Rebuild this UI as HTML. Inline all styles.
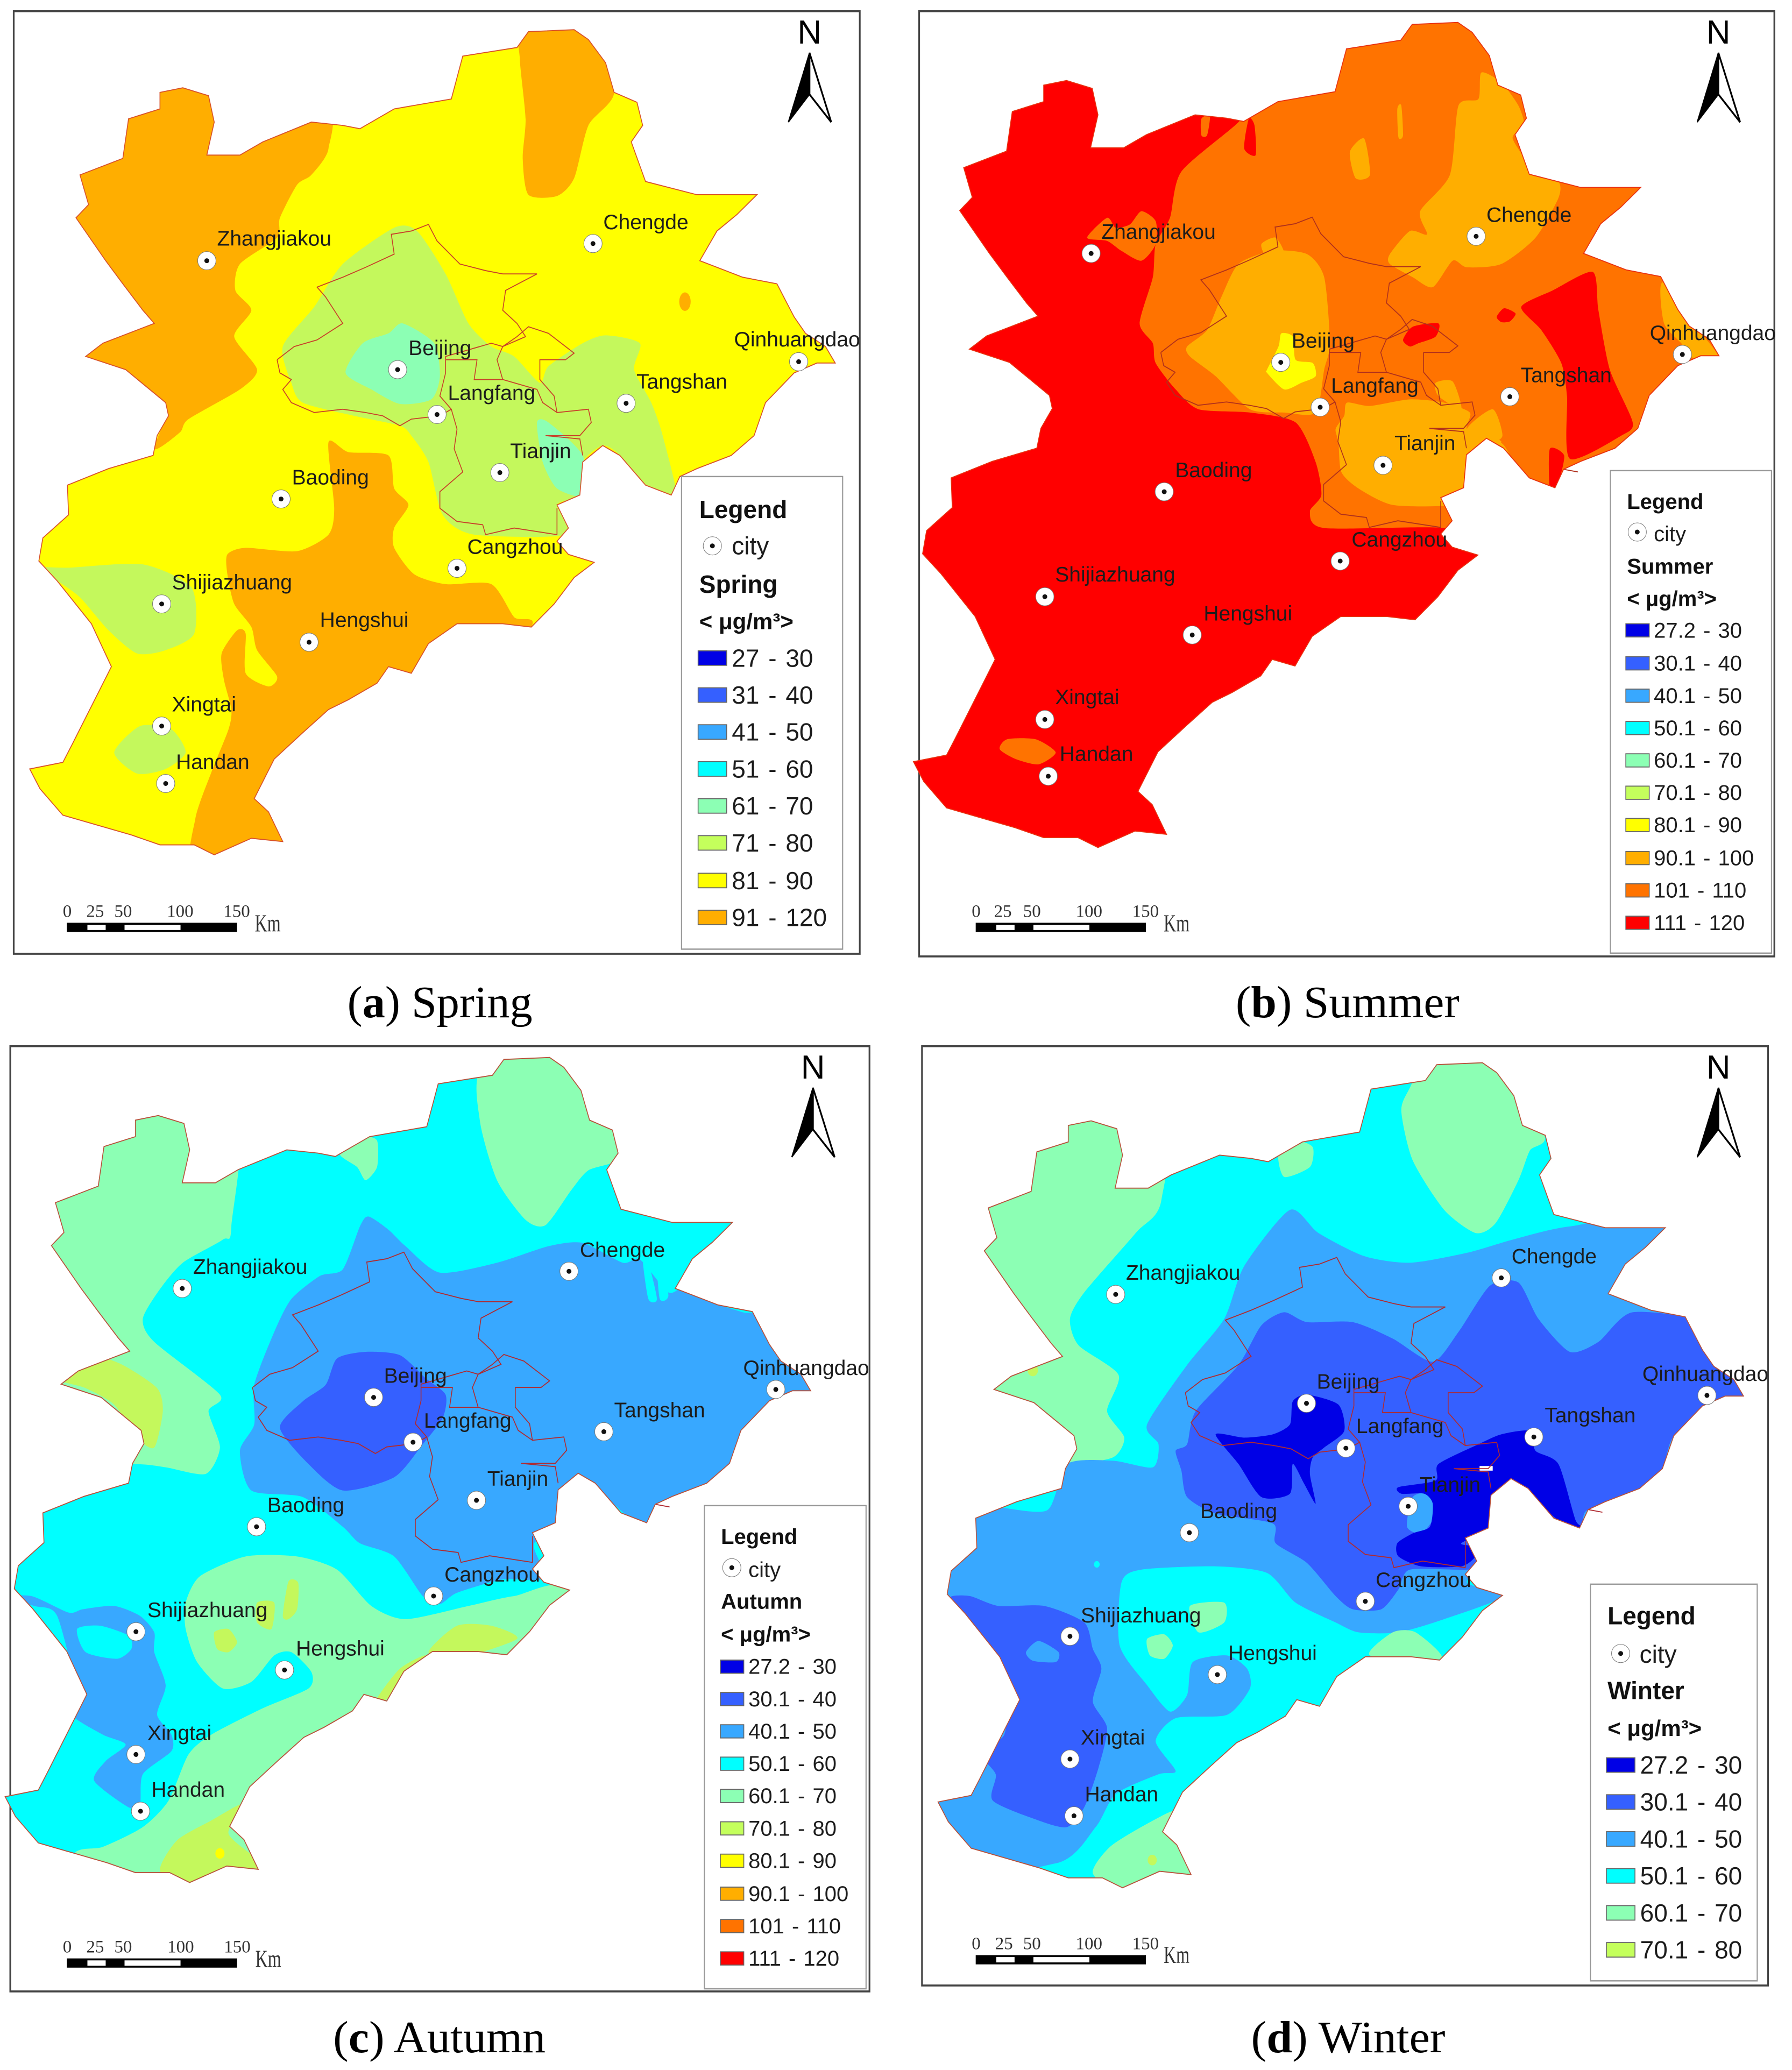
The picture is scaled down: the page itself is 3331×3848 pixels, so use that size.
<!DOCTYPE html>
<html><head><meta charset="utf-8"><title>Seasonal maps</title>
<style>
html,body{margin:0;padding:0;background:#fff}
svg{display:block}
text{font-family:"Liberation Sans",sans-serif;fill:#1c1c1c;white-space:pre}
.city{font-size:39px}
.lb{font-weight:bold;font-size:46px;fill:#111}
.lt{font-size:46px;word-spacing:4px}
.lbs{font-weight:bold;font-size:40px;fill:#111}
.lts{font-size:40px;word-spacing:3px}
.sc{font-family:"Liberation Serif",serif;font-size:33px;fill:#333}
.km{font-family:"Liberation Serif",serif;font-size:46px;fill:#333}
.cap{font-family:"Liberation Serif",serif;font-size:84px;fill:#000}
.n{font-size:62px;fill:#000;text-anchor:middle}
.frame{fill:#fff;stroke:#444;stroke-width:3}
.lg{fill:#fff;stroke:#999;stroke-width:2}
.sw{stroke:#666;stroke-width:1.5}
.edge{fill:none;stroke:#d8502a;stroke-width:1.5}
.adm{fill:none;stroke:#c8402a;stroke-width:1.5}
</style></head>
<body>
<svg xmlns="http://www.w3.org/2000/svg" width="3331" height="3848" viewBox="0 0 3331 3848">
<defs>
<path id="hebei" d="M280,140 320,133 365,145 375,185 362,235 420,235 460,215 545,185 600,190 630,195 690,165 790,150 810,85 905,72 925,48 1005,45 1030,60 1060,95 1075,140 1115,155 1125,190 1105,215 1130,275 1220,295 1325,295 1290,325 1255,350 1225,395 1300,420 1360,430 1390,480 1410,505 1445,525 1462,550 1430,550 1390,565 1340,610 1320,660 1280,690 1220,710 1190,722 1175,750 1130,735 1085,690 1055,675 1020,700 1015,750 975,765 995,800 975,820 995,840 1040,852 1005,875 970,915 930,950 880,945 800,945 750,975 720,1020 680,1010 660,1035 610,1060 575,1075 530,1110 480,1150 445,1210 470,1230 495,1275 440,1270 375,1295 340,1280 280,1280 230,1265 110,1235 70,1195 52,1165 110,1155 125,1130 195,1010 160,945 100,880 68,850 75,815 120,780 118,735 190,710 268,690 275,660 295,630 290,610 220,560 150,540 180,520 270,490 250,470 215,430 185,395 133,330 155,310 140,265 215,240 225,180 280,165Z"/>
<path id="admin" d="M485,545 515,525 555,515 600,490 570,450 555,435 600,420 640,405 690,385 685,355 720,350 750,340 765,365 805,400 850,410 880,415 940,415 885,440 880,470 905,490 920,510 880,525 860,520 820,530 780,540 780,565 770,600 790,620 770,630 720,635 700,645 670,630 640,625 600,620 550,625 510,610 495,590 510,575 490,565 485,545M880,525 905,510 925,495 960,505 1005,535 990,545 945,545 945,575 970,600 975,625 1030,620 1035,640 1015,660 955,660 1015,665 1020,690M790,620 800,650 795,680 810,715 770,745 770,770 800,790 845,795 850,810 900,800 975,810 975,770M780,545 835,545 830,575 880,575 870,545 880,525M880,575 940,590 950,610 975,625M1190,722 1215,726"/>
<g id="city-marker"><circle r="17" fill="#fff" stroke="#777" stroke-width="1"/><circle r="4.5" fill="#111"/></g>
<g id="north"><path d="M0,80 -37,185 0,143Z" fill="#000" stroke="#000" stroke-width="2"/><path d="M0,80 38,185 0,143Z" fill="#fff" stroke="#000" stroke-width="3"/></g>
<g id="bar"><rect x="117" y="1398" width="298" height="14" fill="#000"/><rect x="153" y="1401" width="32" height="8" fill="#fff"/><rect x="218" y="1401" width="98" height="8" fill="#fff"/></g>
<clipPath id="clip-a"><use href="#hebei"/></clipPath>
<clipPath id="clip-b"><use href="#hebei" transform="translate(-21,-11)"/></clipPath>
<clipPath id="clip-c"><use href="#hebei" transform="translate(-43,-11)"/></clipPath>
<clipPath id="clip-d"><use href="#hebei" transform="translate(22,-3)"/></clipPath>
</defs>

<!-- PANEL A -->
<g transform="translate(0,0) scale(1.0619,1.227)">
<rect class="frame" x="24" y="17" width="1481" height="1428"/>
<g clip-path="url(#clip-a)">
<rect x="0" y="0" width="1560" height="1400" fill="#ffff00"/>
<polygon fill="#ffae00" points="250,100 560,150 575,225 545,265 520,280 490,330 485,360 420,400 412,440 440,470 410,510 450,560 420,590 330,635 315,655 270,680 285,610 100,600 100,100"/>
<polygon fill="#ffae00" points="915,40 1040,40 1075,140 1030,190 1005,270 975,297 925,295 915,240 920,180 910,90"/>
<ellipse fill="#ffae00" cx="1199" cy="457" rx="10" ry="14"/>
<polygon fill="#ffae00" points="398,840 430,830 520,835 575,810 585,770 575,670 610,685 680,690 690,740 715,765 690,800 690,830 725,870 780,885 860,885 900,935 930,950 800,1100 500,1320 340,1320 342,1240 370,1170 400,1105 405,1075 392,1030 388,990 415,955 430,960 430,1020 470,1040 485,1025 450,985 440,950 410,915 398,870"/>
<polygon fill="#c4f85c" points="495,525 550,465 600,400 690,345 730,350 780,415 820,490 860,525 900,540 945,580 960,555 1020,520 1060,508 1120,520 1110,560 1140,610 1160,660 1185,760 1130,745 1085,690 1055,675 1020,700 1015,750 975,765 995,810 830,810 775,780 750,700 720,660 700,645 620,630 530,610 510,580"/>
<polygon fill="#c4f85c" points="60,860 120,860 250,855 335,890 340,960 290,985 240,990 190,955 140,905 100,880"/>
<polygon fill="#c4f85c" points="200,1140 245,1100 300,1105 325,1140 290,1165 240,1172"/>
<polygon fill="#8cffb4" points="605,565 635,520 680,505 705,490 760,520 770,570 755,605 700,612 650,590"/>
<polygon fill="#8cffb4" points="940,640 960,640 1020,690 1020,750 975,740 950,700"/>
</g>
<use href="#admin" class="adm"/>
<use href="#hebei" class="edge"/>

<use class="u" href="#city-marker" x="362" y="395"/><text class="u city" x="380" y="372">Zhangjiakou</text>
<use class="u" href="#city-marker" x="1038" y="369"/><text class="u city" x="1056" y="347">Chengde</text>
<use class="u" href="#city-marker" x="696" y="560"/><text class="u city" x="715" y="538">Beijing</text>
<use class="u" href="#city-marker" x="1398" y="548"/><text class="u city" x="1285" y="525">Qinhuangdao</text>
<use class="u" href="#city-marker" x="1096" y="611"/><text class="u city" x="1114" y="589">Tangshan</text>
<use class="u" href="#city-marker" x="765" y="628"/><text class="u city" x="784" y="606">Langfang</text>
<use class="u" href="#city-marker" x="875" y="716"/><text class="u city" x="893" y="694">Tianjin</text>
<use class="u" href="#city-marker" x="492" y="756"/><text class="u city" x="511" y="734">Baoding</text>
<use class="u" href="#city-marker" x="800" y="861"/><text class="u city" x="818" y="839">Cangzhou</text>
<use class="u" href="#city-marker" x="283" y="915"/><text class="u city" x="301" y="893">Shijiazhuang</text>
<use class="u" href="#city-marker" x="541" y="973"/><text class="u city" x="560" y="950">Hengshui</text>
<use class="u" href="#city-marker" x="283" y="1100"/><text class="u city" x="301" y="1078">Xingtai</text>
<use class="u" href="#city-marker" x="290" y="1187"/><text class="u city" x="308" y="1165">Handan</text>

<g><use href="#north" x="1417" y="0"/><text class="u n" x="1417" y="66">N</text></g>
<g><use href="#bar"/>
<text class="u sc" x="110" y="1389">0</text><text class="u sc" x="151" y="1389">25</text><text class="u sc" x="200" y="1389">50</text><text class="u sc" x="292" y="1389">100</text><text class="u sc" x="391" y="1389">150</text><text class="u km" x="446" y="1411" textLength="48" lengthAdjust="spacingAndGlyphs">Km</text></g>

<g>
<rect class="lg" x="1193" y="722" width="282" height="716"/>
<text class="u lb" x="1224" y="785">Legend</text>
<use class="u" href="#city-marker" x="1247" y="827"/><text class="u lt" x="1281" y="840">city</text>
<text class="u lb" x="1224" y="898">Spring</text>
<text class="u lb" x="1224" y="953" style="font-size:42px">&lt; μg/m³&gt;</text>
<g><rect class="sw" x="1222" y="986" width="50" height="22" fill="#0000e6"/><text class="u lt" x="1281" y="1010">27 - 30</text></g>
<g><rect class="sw" x="1222" y="1042" width="50" height="22" fill="#3560ff"/><text class="u lt" x="1281" y="1066">31 - 40</text></g>
<g><rect class="sw" x="1222" y="1098" width="50" height="22" fill="#38a8ff"/><text class="u lt" x="1281" y="1122">41 - 50</text></g>
<g><rect class="sw" x="1222" y="1154" width="50" height="22" fill="#00ffff"/><text class="u lt" x="1281" y="1178">51 - 60</text></g>
<g><rect class="sw" x="1222" y="1210" width="50" height="22" fill="#8cffb4"/><text class="u lt" x="1281" y="1234">61 - 70</text></g>
<g><rect class="sw" x="1222" y="1266" width="50" height="22" fill="#c4ff5c"/><text class="u lt" x="1281" y="1290">71 - 80</text></g>
<g><rect class="sw" x="1222" y="1323" width="50" height="22" fill="#ffff00"/><text class="u lt" x="1281" y="1347">81 - 90</text></g>
<g><rect class="sw" x="1222" y="1379" width="50" height="22" fill="#ffae00"/><text class="u lt" x="1281" y="1403">91 - 120</text></g>
</g>
<text class="u cap" x="608" y="1541" textLength="344" lengthAdjust="spacingAndGlyphs">(<tspan font-weight="bold">a</tspan>) Spring</text>
</g>

<!-- PANEL B -->
<g transform="translate(1665,0) scale(1.0619,1.227)">
<rect class="frame" x="41" y="17" width="1497" height="1432"/>
<g clip-path="url(#clip-b)">
<rect x="0" y="0" width="1560" height="1400" fill="#ff0000"/>
<polygon fill="#ff7300" points="600,185 500,260 480,330 455,370 450,420 427,490 450,520 455,550 490,590 530,620 620,625 700,640 735,700 745,750 725,775 750,800 960,800 1000,830 1100,800 1400,800 1500,500 1200,0 650,0 620,150"/>
<polygon fill="#ff0000" points="618,180 628,190 630,235 610,225"/>
<polygon fill="#ff7300" points="535,180 550,175 545,205 535,205"/>
<polygon fill="#ff7300" points="335,360 370,330 385,345 410,340 430,320 455,335 455,370 430,395 395,380 370,365"/>
<polygon fill="#ff7300" points="182,1135 195,1120 245,1120 280,1140 250,1158 210,1150"/>
<polygon fill="#ffae00" points="1025,110 1060,125 1090,160 1100,190 1080,210 1120,260 1160,275 1160,300 1120,360 1060,400 1000,405 975,395 940,435 905,420 865,400 865,385 900,350 930,355 918,320 970,265 985,160 1020,150"/>
<polygon fill="#ffae00" points="795,230 820,210 830,265 805,270"/>
<polygon fill="#ffae00" points="878,165 885,160 888,205 880,208"/>
<polygon fill="#ffae00" points="510,525 545,500 570,450 600,400 660,380 720,385 750,420 760,520 750,560 735,625 680,625 620,620 560,570 515,540"/>
<polygon fill="#ffae00" points="640,370 665,360 680,385 650,390"/>
<polygon fill="#ffff00" points="650,560 670,525 675,505 695,510 700,545 730,550 735,570 710,580 680,590 650,565"/>
<polygon fill="#ffae00" points="790,610 830,615 900,605 960,610 1005,625 1000,650 1040,660 1060,670 1020,680 1000,740 970,765 870,765 810,740 780,715 775,670 770,650 785,630"/>
<polygon fill="#ffae00" points="945,580 975,578 990,620 950,600"/>
<polygon fill="#ffae00" points="1000,650 1045,620 1062,660 1040,670"/>
<polygon fill="#ffae00" points="1045,665 1065,675 1090,715 1070,705"/>
<polygon fill="#ffae00" points="1340,430 1380,425 1390,480 1440,540 1400,545 1375,520 1345,490"/>
<polygon fill="#ff0000" points="1095,465 1150,440 1220,412 1230,470 1250,560 1290,640 1270,660 1180,695 1175,600 1165,550 1130,500"/>
<polygon fill="#ff0000" points="1145,680 1170,690 1160,730 1145,740"/>
<polygon fill="#ff0000" points="888,515 905,495 950,490 945,510 915,520 900,525"/>
<polygon fill="#ff0000" points="1052,480 1065,467 1085,475 1075,487 1060,488"/>
</g>
<g transform="translate(-21,-11)"><use href="#admin" class="adm" style="stroke:#b0301c"/><use href="#hebei" class="edge" style="stroke:#e83010"/></g>

<use class="u" href="#city-marker" x="342" y="384"/><text class="u city" x="360" y="362">Zhangjiakou</text>
<use class="u" href="#city-marker" x="1016" y="358"/><text class="u city" x="1034" y="336">Chengde</text>
<use class="u" href="#city-marker" x="674" y="549"/><text class="u city" x="693" y="527">Beijing</text>
<use class="u" href="#city-marker" x="1377" y="537"/><text class="u city" x="1320" y="515">Qinhuangdao</text>
<use class="u" href="#city-marker" x="1075" y="601"/><text class="u city" x="1094" y="579">Tangshan</text>
<use class="u" href="#city-marker" x="743" y="617"/><text class="u city" x="762" y="595">Langfang</text>
<use class="u" href="#city-marker" x="853" y="705"/><text class="u city" x="873" y="682">Tianjin</text>
<use class="u" href="#city-marker" x="470" y="745"/><text class="u city" x="489" y="723">Baoding</text>
<use class="u" href="#city-marker" x="778" y="850"/><text class="u city" x="798" y="828">Cangzhou</text>
<use class="u" href="#city-marker" x="261" y="904"/><text class="u city" x="279" y="881">Shijiazhuang</text>
<use class="u" href="#city-marker" x="519" y="962"/><text class="u city" x="539" y="940">Hengshui</text>
<use class="u" href="#city-marker" x="261" y="1090"/><text class="u city" x="279" y="1067">Xingtai</text>
<use class="u" href="#city-marker" x="267" y="1176"/><text class="u city" x="287" y="1153">Handan</text>

<g><use href="#north" x="1440" y="0"/><text class="u n" x="1440" y="66">N</text></g>
<g><g transform="translate(23,0)"><use href="#bar"/></g>
<text class="u sc" x="133" y="1389">0</text><text class="u sc" x="172" y="1389">25</text><text class="u sc" x="223" y="1389">50</text><text class="u sc" x="315" y="1389">100</text><text class="u sc" x="414" y="1389">150</text><text class="u km" x="469" y="1411" textLength="48" lengthAdjust="spacingAndGlyphs">Km</text></g>

<g>
<rect class="lg" x="1251" y="713" width="282" height="731"/>
<text class="u lbs" x="1280" y="771">Legend</text>
<use class="u" href="#city-marker" x="1298" y="806"/><text class="u lts" x="1327" y="820">city</text>
<text class="u lbs" x="1280" y="869">Summer</text>
<text class="u lbs" x="1280" y="918">&lt; μg/m³&gt;</text>
<g><rect class="sw" x="1278" y="945" width="41" height="20" fill="#0000e6"/><text class="u lts" x="1327" y="966">27.2 - 30</text></g>
<g><rect class="sw" x="1278" y="995" width="41" height="20" fill="#3560ff"/><text class="u lts" x="1327" y="1016">30.1 - 40</text></g>
<g><rect class="sw" x="1278" y="1044" width="41" height="20" fill="#38a8ff"/><text class="u lts" x="1327" y="1065">40.1 - 50</text></g>
<g><rect class="sw" x="1278" y="1093" width="41" height="20" fill="#00ffff"/><text class="u lts" x="1327" y="1114">50.1 - 60</text></g>
<g><rect class="sw" x="1278" y="1142" width="41" height="20" fill="#8cffb4"/><text class="u lts" x="1327" y="1163">60.1 - 70</text></g>
<g><rect class="sw" x="1278" y="1191" width="41" height="20" fill="#c4ff5c"/><text class="u lts" x="1327" y="1212">70.1 - 80</text></g>
<g><rect class="sw" x="1278" y="1240" width="41" height="20" fill="#ffff00"/><text class="u lts" x="1327" y="1261">80.1 - 90</text></g>
<g><rect class="sw" x="1278" y="1290" width="41" height="20" fill="#ffae00"/><text class="u lts" x="1327" y="1311">90.1 - 100</text></g>
<g><rect class="sw" x="1278" y="1339" width="41" height="20" fill="#ff7300"/><text class="u lts" x="1327" y="1360">101 - 110</text></g>
<g><rect class="sw" x="1278" y="1388" width="41" height="20" fill="#ff0000"/><text class="u lts" x="1327" y="1409">111 - 120</text></g>
</g>
<text class="u cap" x="595" y="1541" textLength="416" lengthAdjust="spacingAndGlyphs">(<tspan font-weight="bold">b</tspan>) Summer</text>
</g>

<!-- PANEL C -->
<g transform="translate(0,1924) scale(1.0619,1.227)">
<rect class="frame" x="18" y="17" width="1504" height="1432"/>
<g clip-path="url(#clip-c)">
<rect x="0" y="0" width="1560" height="1400" fill="#00ffff"/>
<polygon fill="#8cffb4" points="60,60 405,60 405,290 390,310 320,345 280,385 250,430 270,465 385,545 365,570 385,625 360,665 290,655 235,650 60,650"/>
<polygon fill="#c4f85c" points="100,520 170,490 215,500 275,535 285,570 270,625 240,610 200,560 150,535"/>
<polygon fill="#8cffb4" points="845,50 1000,30 1100,150 1080,190 1030,205 1000,235 955,288 920,280 870,220 840,130"/>
<polygon fill="#8cffb4" points="595,180 635,155 660,160 660,200 640,220 625,200"/>
<polygon fill="#38a8ff" points="645,275 680,295 710,320 770,360 870,345 960,320 1020,315 1090,345 1120,340 1170,390 1200,380 1230,400 1300,420 1350,430 1430,545 1350,570 1300,640 1200,700 1130,745 1060,700 1020,680 985,700 980,740 935,770 945,800 945,825 880,825 800,845 770,862 740,850 690,790 630,770 600,745 530,700 440,690 420,630 445,590 445,530 480,450 510,400 560,365 600,355 630,290"/>
<polygon fill="#00ffff" points="1125,340 1135,345 1150,400 1135,400"/>
<polygon fill="#00ffff" points="1150,345 1160,340 1170,395 1155,400"/>
<polygon fill="#3560ff" points="490,595 530,555 570,530 590,490 640,480 700,485 745,520 780,545 775,580 740,620 690,670 600,690 540,650"/>
<polygon fill="#8cffb4" points="325,860 350,820 430,790 520,790 590,810 650,865 710,885 820,865 900,850 1000,845 1010,1100 500,1320 100,1320 130,1240 180,1230 250,1200 295,1160 330,1090 370,1060 460,1020 540,990 545,965 510,935 480,940 440,980 390,990 345,950 325,900"/>
<polygon fill="#38a8ff" points="0,852 55,850 120,875 145,870 200,865 245,880 270,905 270,935 290,985 275,1030 300,1060 300,1085 250,1120 245,1165 225,1170 165,1130 185,1100 220,1075 180,1060 125,1030 135,1000 100,880 60,865"/>
<polygon fill="#00ffff" points="135,900 175,895 225,910 230,930 205,945 150,935"/>
<polygon fill="#c4f85c" points="750,935 800,895 860,895 905,915 800,945"/>
<polygon fill="#c4f85c" points="660,1005 700,960 745,940 720,975 670,1010"/>
<polygon fill="#c4f85c" points="280,1265 310,1220 370,1190 425,1165 400,1210 450,1250 455,1280 320,1290"/>
<polygon fill="#c4f85c" points="375,905 400,900 415,920 400,935 380,930"/>
<polygon fill="#c4f85c" points="495,880 505,828 522,830 520,870 505,885"/>
<polygon fill="#c4f85c" points="450,860 480,860 475,900 450,890"/>
<circle cx="385" cy="1240" r="8" fill="#ffff00"/>
</g>
<g transform="translate(-43,-11)"><use href="#admin" class="adm" style="stroke:#b02a30"/><use href="#hebei" class="edge" style="stroke:#b8503a"/></g>

<use class="u" href="#city-marker" x="319" y="384"/><text class="u city" x="338" y="362">Zhangjiakou</text>
<use class="u" href="#city-marker" x="996" y="358"/><text class="u city" x="1015" y="336">Chengde</text>
<use class="u" href="#city-marker" x="654" y="549"/><text class="u city" x="672" y="527">Beijing</text>
<use class="u" href="#city-marker" x="1358" y="537"/><text class="u city" x="1301" y="515">Qinhuangdao</text>
<use class="u" href="#city-marker" x="1057" y="601"/><text class="u city" x="1075" y="579">Tangshan</text>
<use class="u" href="#city-marker" x="723" y="617"/><text class="u city" x="742" y="595">Langfang</text>
<use class="u" href="#city-marker" x="834" y="705"/><text class="u city" x="853" y="683">Tianjin</text>
<use class="u" href="#city-marker" x="449" y="745"/><text class="u city" x="468" y="723">Baoding</text>
<use class="u" href="#city-marker" x="759" y="850"/><text class="u city" x="778" y="828">Cangzhou</text>
<use class="u" href="#city-marker" x="238" y="904"/><text class="u city" x="258" y="882">Shijiazhuang</text>
<use class="u" href="#city-marker" x="498" y="962"/><text class="u city" x="518" y="940">Hengshui</text>
<use class="u" href="#city-marker" x="238" y="1090"/><text class="u city" x="258" y="1068">Xingtai</text>
<use class="u" href="#city-marker" x="246" y="1176"/><text class="u city" x="265" y="1154">Handan</text>

<g><use href="#north" x="1423" y="0"/><text class="u n" x="1423" y="66">N</text></g>
<g><g transform="translate(0,1)"><use href="#bar"/></g>
<text class="u sc" x="110" y="1390">0</text><text class="u sc" x="151" y="1390">25</text><text class="u sc" x="200" y="1390">50</text><text class="u sc" x="293" y="1390">100</text><text class="u sc" x="392" y="1390">150</text><text class="u km" x="447" y="1412" textLength="48" lengthAdjust="spacingAndGlyphs">Km</text></g>

<g>
<rect class="lg" x="1233" y="713" width="283" height="732"/>
<text class="u lbs" x="1262" y="771">Legend</text>
<use class="u" href="#city-marker" x="1281" y="807"/><text class="u lts" x="1310" y="821">city</text>
<text class="u lbs" x="1262" y="869">Autumn</text>
<text class="u lbs" x="1262" y="919">&lt; μg/m³&gt;</text>
<g><rect class="sw" x="1261" y="947" width="41" height="20" fill="#0000e6"/><text class="u lts" x="1310" y="968">27.2 - 30</text></g>
<g><rect class="sw" x="1261" y="996" width="41" height="20" fill="#3560ff"/><text class="u lts" x="1310" y="1017">30.1 - 40</text></g>
<g><rect class="sw" x="1261" y="1045" width="41" height="20" fill="#38a8ff"/><text class="u lts" x="1310" y="1066">40.1 - 50</text></g>
<g><rect class="sw" x="1261" y="1094" width="41" height="20" fill="#00ffff"/><text class="u lts" x="1310" y="1115">50.1 - 60</text></g>
<g><rect class="sw" x="1261" y="1143" width="41" height="20" fill="#8cffb4"/><text class="u lts" x="1310" y="1164">60.1 - 70</text></g>
<g><rect class="sw" x="1261" y="1192" width="41" height="20" fill="#c4ff5c"/><text class="u lts" x="1310" y="1213">70.1 - 80</text></g>
<g><rect class="sw" x="1261" y="1241" width="41" height="20" fill="#ffff00"/><text class="u lts" x="1310" y="1262">80.1 - 90</text></g>
<g><rect class="sw" x="1261" y="1291" width="41" height="20" fill="#ffae00"/><text class="u lts" x="1310" y="1312">90.1 - 100</text></g>
<g><rect class="sw" x="1261" y="1340" width="41" height="20" fill="#ff7300"/><text class="u lts" x="1310" y="1361">101 - 110</text></g>
<g><rect class="sw" x="1261" y="1389" width="41" height="20" fill="#ff0000"/><text class="u lts" x="1310" y="1410">111 - 120</text></g>
</g>
<text class="u cap" x="583" y="1541" textLength="395" lengthAdjust="spacingAndGlyphs">(<tspan font-weight="bold">c</tspan>) Autumn</text>
</g>

<!-- PANEL D -->
<g transform="translate(1665,1924) scale(1.0619,1.227)">
<rect class="frame" x="46" y="17" width="1481" height="1423"/>
<g clip-path="url(#clip-d)">
<rect x="0" y="0" width="1560" height="1400" fill="#00ffff"/>
<polygon fill="#8cffb4" points="100,60 465,60 465,250 420,300 330,390 305,430 320,470 390,515 370,570 400,610 380,640 300,650 100,650"/>
<polygon fill="#8cffb4" points="900,80 940,20 1040,20 1135,150 1110,175 1090,220 1050,285 1015,300 960,265 905,190 885,115"/>
<polygon fill="#8cffb4" points="670,180 700,160 730,170 725,200 680,215"/>
<circle cx="240" cy="508" r="9" fill="#c4f85c"/>
<polygon fill="#38a8ff" points="690,265 740,300 820,335 900,345 1000,330 1080,310 1180,290 1350,285 1500,500 1400,700 1190,760 1040,800 1000,830 1065,850 960,885 880,905 810,905 770,890 700,860 650,815 560,805 430,810 395,830 392,925 440,985 480,1025 510,1000 520,950 580,940 615,960 620,990 580,1030 490,1035 455,1070 490,1115 460,1120 385,1150 350,1200 280,1255 50,1250 50,820 90,800 140,730 170,715 265,720 300,650 380,645 450,655 460,620 440,590 510,500 575,430 610,350"/>
<polygon fill="#8cffb4" points="830,940 870,905 910,905 955,945"/>
<polygon fill="#8cffb4" points="345,1270 375,1230 440,1195 490,1175 480,1210 520,1270 400,1300"/>
<polygon fill="#8cffb4" points="440,915 470,908 485,925 470,945 445,940"/>
<polygon fill="#8cffb4" points="515,865 575,860 575,890 530,905"/>
<circle cx="352" cy="802" r="5" fill="#00ffff"/>
<circle cx="449" cy="1250" r="8" fill="#c4f85c"/>
<polygon fill="#3560ff" points="510,620 525,570 600,500 640,440 680,420 720,435 800,435 870,460 940,495 985,450 1040,380 1090,375 1125,430 1180,480 1230,465 1290,420 1420,440 1490,545 1420,560 1360,610 1340,660 1290,700 1210,720 1195,750 1100,800 1000,810 900,810 880,840 850,870 800,870 770,850 720,800 665,770 660,740 560,725 510,700 500,660 490,630"/>
<polygon fill="#3560ff" points="95,852 130,850 180,865 260,865 330,890 345,930 360,960 345,1010 370,1050 355,1110 330,1170 300,1200 250,1190 170,1160 175,1120 145,1085 190,1060 195,980 155,920 110,880"/>
<polygon fill="#38a8ff" points="228,935 250,918 285,935 280,950 240,948"/>
<polygon fill="#38a8ff" points="905,700 935,695 942,730 920,755 895,745"/>
<polygon fill="#0000e6" points="560,605 610,610 660,605 690,590 695,555 720,545 775,560 785,600 750,625 730,640 725,665 735,710 715,680 695,650 690,695 640,700 600,650"/>
<polygon fill="#0000e6" points="880,685 945,675 950,650 1020,620 1060,605 1110,600 1120,630 1160,650 1190,735 1205,745 1185,752 1100,695 1060,695 1045,715 1045,745 990,770 1015,775 1015,790 990,805 920,805 880,790 878,770 905,755 935,745 940,710 925,695 885,695"/>
<rect x="1022" y="653" width="23" height="7" fill="#fff"/>
</g>
<g transform="translate(22,-3)"><use href="#admin" class="adm" style="stroke:#b02a30"/><use href="#hebei" class="edge" style="stroke:#b8503a"/></g>

<use class="u" href="#city-marker" x="385" y="393"/><text class="u city" x="403" y="371">Zhangjiakou</text>
<use class="u" href="#city-marker" x="1060" y="368"/><text class="u city" x="1078" y="346">Chengde</text>
<use class="u" href="#city-marker" x="719" y="558"/><text class="u city" x="737" y="536">Beijing</text>
<use class="u" href="#city-marker" x="1420" y="546"/><text class="u city" x="1307" y="524">Qinhuangdao</text>
<use class="u" href="#city-marker" x="1117" y="609"/><text class="u city" x="1136" y="587">Tangshan</text>
<use class="u" href="#city-marker" x="788" y="626"/><text class="u city" x="806" y="603">Langfang</text>
<use class="u" href="#city-marker" x="897" y="714"/><text class="u city" x="917" y="692">Tianjin</text>
<use class="u" href="#city-marker" x="514" y="754"/><text class="u city" x="533" y="732">Baoding</text>
<use class="u" href="#city-marker" x="822" y="858"/><text class="u city" x="840" y="836">Cangzhou</text>
<use class="u" href="#city-marker" x="305" y="911"/><text class="u city" x="324" y="890">Shijiazhuang</text>
<use class="u" href="#city-marker" x="563" y="969"/><text class="u city" x="582" y="947">Hengshui</text>
<use class="u" href="#city-marker" x="305" y="1097"/><text class="u city" x="324" y="1075">Xingtai</text>
<use class="u" href="#city-marker" x="312" y="1183"/><text class="u city" x="331" y="1161">Handan</text>

<g><use href="#north" x="1440" y="0"/><text class="u n" x="1440" y="66">N</text></g>
<g><g transform="translate(23,-4)"><use href="#bar"/></g>
<text class="u sc" x="133" y="1385">0</text><text class="u sc" x="174" y="1385">25</text><text class="u sc" x="223" y="1385">50</text><text class="u sc" x="315" y="1385">100</text><text class="u sc" x="414" y="1385">150</text><text class="u km" x="469" y="1406" textLength="48" lengthAdjust="spacingAndGlyphs">Km</text></g>

<g>
<rect class="lg" x="1216" y="832" width="292" height="601"/>
<text class="u lb" x="1246" y="893">Legend</text>
<use class="u" href="#city-marker" x="1269" y="937"/><text class="u lt" x="1302" y="951">city</text>
<text class="u lb" x="1246" y="1006">Winter</text>
<text class="u lb" x="1246" y="1062" style="font-size:42px">&lt; μg/m³&gt;</text>
<g><rect class="sw" x="1244" y="1095" width="50" height="22" fill="#0000e6"/><text class="u lt" x="1303" y="1119">27.2 - 30</text></g>
<g><rect class="sw" x="1244" y="1151" width="50" height="22" fill="#3560ff"/><text class="u lt" x="1303" y="1175">30.1 - 40</text></g>
<g><rect class="sw" x="1244" y="1207" width="50" height="22" fill="#38a8ff"/><text class="u lt" x="1303" y="1231">40.1 - 50</text></g>
<g><rect class="sw" x="1244" y="1263" width="50" height="22" fill="#00ffff"/><text class="u lt" x="1303" y="1287">50.1 - 60</text></g>
<g><rect class="sw" x="1244" y="1319" width="50" height="22" fill="#8cffb4"/><text class="u lt" x="1303" y="1343">60.1 - 70</text></g>
<g><rect class="sw" x="1244" y="1375" width="50" height="22" fill="#c4ff5c"/><text class="u lt" x="1303" y="1399">70.1 - 80</text></g>
</g>
<text class="u cap" x="622" y="1541" textLength="361" lengthAdjust="spacingAndGlyphs">(<tspan font-weight="bold">d</tspan>) Winter</text>
</g>
</svg>
<script>
var scaleX = 1.0619;
var scaleY = 1.227;
var SVG_NS = 'http://www.w3.org/2000/svg';
document.querySelectorAll('.u').forEach(function (el) {
  var x = parseFloat(el.getAttribute('x')) || 0;
  var y = parseFloat(el.getAttribute('y')) || 0;
  el.setAttribute('transform', 'translate(' + x + ' ' + y + ') scale(' + (1 / scaleX) + ' ' + (1 / scaleY) + ') translate(' + (-x) + ' ' + (-y) + ')');
});
/* round traced region polygons into smooth closed curves */
document.querySelectorAll('polygon').forEach(function (poly) {
  var nums = poly.getAttribute('points').trim().split(/[\s,]+/).map(Number);
  var pts = [];
  for (var i = 0; i < nums.length; i += 2) pts.push([nums[i], nums[i + 1]]);
  var n = pts.length;
  var tension = 0.12;
  var d = 'M' + pts[0][0] + ',' + pts[0][1];
  for (var k = 0; k < n; k++) {
    var p0 = pts[(k - 1 + n) % n], p1 = pts[k], p2 = pts[(k + 1) % n], p3 = pts[(k + 2) % n];
    d += 'C' + (p1[0] + (p2[0] - p0[0]) * tension) + ',' + (p1[1] + (p2[1] - p0[1]) * tension) + ' ' +
         (p2[0] - (p3[0] - p1[0]) * tension) + ',' + (p2[1] - (p3[1] - p1[1]) * tension) + ' ' + p2[0] + ',' + p2[1];
  }
  var path = document.createElementNS(SVG_NS, 'path');
  path.setAttribute('d', d + 'Z');
  path.setAttribute('fill', poly.getAttribute('fill'));
  
  
  poly.parentNode.replaceChild(path, poly);
});
</script>
</body></html>
